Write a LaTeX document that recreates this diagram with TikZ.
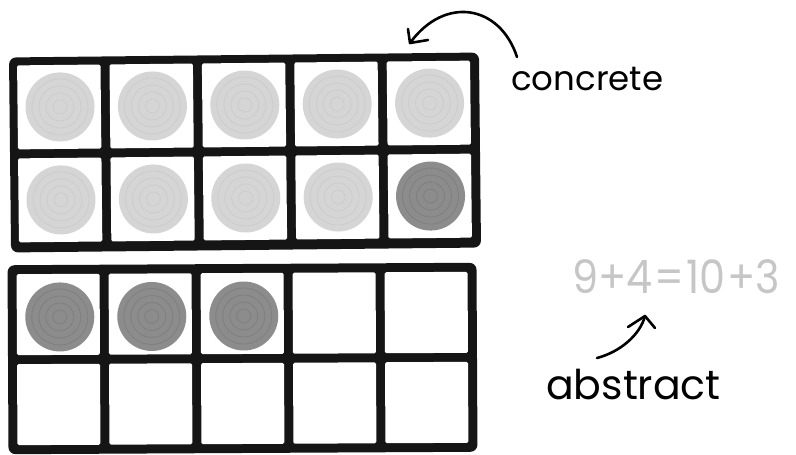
\documentclass[tikz,border=0pt]{standalone}
\usepackage{fontspec}
\setmainfont{Poppins}
\definecolor{framec}{HTML}{151515}
\definecolor{lightchip}{HTML}{D5D5D5}
\definecolor{lightring}{HTML}{CDCDCD}
\definecolor{darkchip}{HTML}{8C8C8C}
\definecolor{darkring}{HTML}{808080}
\definecolor{eqgray}{HTML}{C6C6C6}
\newcommand\drawchip[3]{%
  \fill[#3chip] (#1,#2) circle (34.5pt);
  \foreach \r in {7,14,21,28}{\draw[#3ring, line width=0.9pt] (#1,#2) circle (\r pt);}
}
\begin{document}
\begin{tikzpicture}[x=1pt,y=-1pt,
  framebox/.style={fill=framec, rounded corners=7pt},
  cellbox/.style={fill=white, rounded corners=1.5pt},
  handlabel/.style={inner sep=0pt, text=black},
  arrowline/.style={draw=black, line width=2.6pt, line cap=round, line join=round}]
\useasboundingbox[fill=white] (0,0) rectangle (796,455);

% top ten-frame (concrete)
\begin{scope}[rotate around={0.6:(245,152)}]
  \fill[framebox] (10,55) rectangle (480,250);
  \foreach \i in {0,...,4}{
    \foreach \j in {0,1}{
      \fill[cellbox] (18+\i*92.4,63+\j*93) rectangle ++(83.4,84);
    }
  }
  \foreach \i in {0,...,4}{\drawchip{60.5+\i*92.4}{105}{light}}
  \foreach \i in {0,...,3}{\drawchip{60.5+\i*92.4}{198}{light}}
  \drawchip{60.5+4*92.4}{198}{dark}
\end{scope}

% bottom ten-frame
\begin{scope}[rotate around={0.3:(242,358)}]
  \fill[framebox] (8,264) rectangle (477,453);
  \foreach \i in {0,...,4}{
    \foreach \j in {0,1}{
      \fill[cellbox] (17+\i*92,273+\j*90) rectangle ++(83,81);
    }
  }
  \foreach \i in {0,...,2}{\drawchip{60+\i*92}{316}{dark}}
\end{scope}

% labels
\node[handlabel, font=\fontsize{34}{34}\selectfont, anchor=base west] (concrete) at (511,90) {concrete};
\node[handlabel, font=\fontsize{41}{41}\selectfont, anchor=base west] (abstract) at (546,399) {abstract};
\node[handlabel, text=eqgray, font=\fontsize{46}{46}\selectfont, anchor=base west, xscale=0.9, transform shape] (equation) at (572,293) {9+4\kern2pt=\kern2pt10\kern2pt+3};

% arrows
\coordinate (c1start) at (517,57);
\coordinate (c1tip) at (410,43);
\draw[arrowline] (c1start) .. controls (500,5) and (445,-5) .. (c1tip);
\draw[arrowline] (c1tip) ++(-2,-14) -- (c1tip) -- ++(18,-3);

\coordinate (c2start) at (597,358);
\coordinate (c2tip) at (645,316);
\draw[arrowline] (c2start) .. controls (620,352) and (640,335) .. (c2tip);
\draw[arrowline] (c2tip) ++(-17,11) -- (c2tip) -- ++(10,12);
\end{tikzpicture}
\end{document}
